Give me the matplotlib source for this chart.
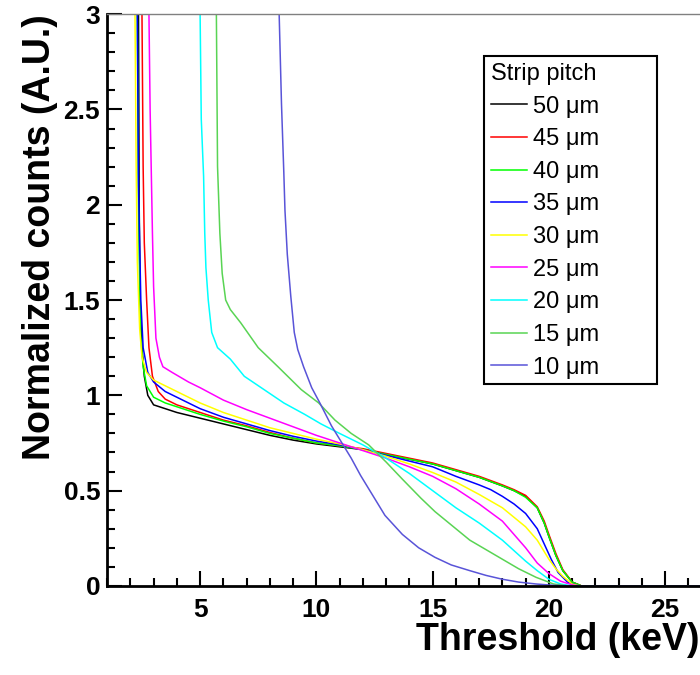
import matplotlib
matplotlib.use("Agg")
import matplotlib.pyplot as plt
from matplotlib.patches import Rectangle
from matplotlib.ticker import MultipleLocator, FormatStrFormatter

plt.rcParams['font.family'] = ['Liberation Sans', 'DejaVu Sans']

# threshold (keV) / normalized counts, one list pair per strip pitch
x50 = [2.3, 2.35, 2.38, 2.42, 2.5, 2.6, 2.75, 3.0, 3.5, 4, 5, 6, 7, 8, 9, 10, 11, 12, 13, 14,
       15, 16, 17, 18, 18.5, 19, 19.5, 19.8, 20.0, 20.3, 20.6, 21.0, 21.4, 27]
y50 = [3.5, 3.0, 2.0, 1.5, 1.25, 1.1, 1.0, 0.95, 0.93, 0.91, 0.88, 0.85, 0.82, 0.79, 0.765, 0.745,
       0.73, 0.715, 0.69, 0.665, 0.64, 0.605, 0.57, 0.525, 0.5, 0.47, 0.41, 0.33, 0.26, 0.16, 0.08,
       0.02, 0.0, 0.0]

x45 = [2.45, 2.5, 2.55, 2.6, 2.7, 2.8, 2.95, 3.2, 3.5, 4, 5, 6, 7, 8, 9, 10, 11, 12, 13, 14,
       15, 16, 17, 18, 18.5, 19, 19.5, 19.8, 20.0, 20.3, 20.6, 21.0, 21.4, 27]
y45 = [3.5, 3.0, 2.2, 1.8, 1.5, 1.25, 1.1, 1.02, 0.98, 0.95, 0.91, 0.87, 0.84, 0.805, 0.775, 0.75,
       0.735, 0.72, 0.695, 0.67, 0.645, 0.61, 0.575, 0.53, 0.505, 0.475, 0.415, 0.34, 0.27, 0.17,
       0.085, 0.02, 0.0, 0.0]

x40 = [2.25, 2.3, 2.35, 2.4, 2.45, 2.55, 2.7, 3.0, 3.5, 4, 5, 6, 7, 8, 9, 10, 11, 12, 13, 14,
       15, 16, 17, 18, 18.5, 19, 19.5, 19.8, 20.0, 20.3, 20.6, 21.0, 21.4, 27]
y40 = [3.5, 3.0, 2.0, 1.6, 1.3, 1.15, 1.05, 0.99, 0.96, 0.94, 0.9, 0.865, 0.835, 0.8, 0.775, 0.75,
       0.735, 0.715, 0.69, 0.665, 0.64, 0.605, 0.57, 0.525, 0.5, 0.465, 0.41, 0.33, 0.26, 0.16,
       0.08, 0.02, 0.0, 0.0]

x35 = [2.25, 2.3, 2.35, 2.45, 2.55, 2.75, 3.0, 3.5, 4, 5, 6, 7, 8, 9, 10, 11, 12, 13, 14, 15,
       16, 17, 17.5, 18, 18.5, 19, 19.5, 19.8, 20.1, 20.4, 20.8, 21.3, 27]
y35 = [3.5, 3.0, 2.1, 1.5, 1.25, 1.12, 1.07, 1.02, 0.99, 0.93, 0.885, 0.85, 0.815, 0.785, 0.76,
       0.74, 0.715, 0.685, 0.655, 0.625, 0.575, 0.53, 0.505, 0.47, 0.43, 0.38, 0.3, 0.22, 0.14,
       0.07, 0.02, 0.0, 0.0]

x30 = [2.15, 2.2, 2.25, 2.3, 2.4, 2.5, 2.7, 3.0, 3.5, 4, 5, 6, 7, 8, 9, 10, 11, 12, 13, 14, 15,
       16, 17, 18, 18.5, 19, 19.5, 20, 20.3, 20.6, 21, 21.3, 27]
y30 = [3.5, 3.0, 2.2, 1.7, 1.35, 1.2, 1.12, 1.08, 1.05, 1.02, 0.96, 0.91, 0.87, 0.83, 0.8, 0.77,
       0.745, 0.715, 0.68, 0.64, 0.595, 0.545, 0.48, 0.41, 0.36, 0.31, 0.24, 0.14, 0.09, 0.05,
       0.01, 0.0, 0.0]

x25 = [2.75, 2.8, 2.85, 2.95, 3.0, 3.1, 3.25, 3.4, 3.8, 4.5, 5, 6, 7, 8, 9, 10, 11, 12, 13, 14,
       15, 16, 17, 18, 19, 19.5, 20, 20.5, 21, 21.3, 27]
y25 = [3.5, 3.0, 2.5, 1.85, 1.57, 1.3, 1.2, 1.15, 1.12, 1.07, 1.04, 0.975, 0.925, 0.88, 0.835,
       0.79, 0.75, 0.71, 0.67, 0.625, 0.575, 0.51, 0.43, 0.34, 0.2, 0.12, 0.065, 0.025, 0.005,
       0.0, 0.0]

x20 = [4.95, 5.0, 5.05, 5.15, 5.2, 5.25, 5.35, 5.5, 5.75, 6.3, 6.9, 7.75, 8.6, 9.5, 10.2, 11,
       12, 13, 14, 15, 16, 17, 18, 19, 19.5, 20, 20.5, 21, 27]
y20 = [3.5, 3.0, 2.45, 2.15, 1.85, 1.67, 1.5, 1.33, 1.25, 1.19, 1.1, 1.03, 0.96, 0.9, 0.85, 0.8,
       0.74, 0.67, 0.59, 0.5, 0.41, 0.33, 0.24, 0.13, 0.08, 0.035, 0.01, 0.0, 0.0]

x15 = [5.65, 5.7, 5.75, 5.85, 5.95, 6.1, 6.3, 6.75, 7.5, 8.35, 9.35, 10.1, 10.8, 11.5, 12.25,
       13, 13.7, 14.5, 15.1, 16, 16.6, 17.3, 18, 18.7, 19.45, 20.2, 20.8, 27]
y15 = [3.5, 3.0, 2.2, 1.85, 1.64, 1.5, 1.45, 1.38, 1.25, 1.15, 1.03, 0.96, 0.87, 0.8, 0.74, 0.65,
       0.56, 0.46, 0.39, 0.3, 0.24, 0.19, 0.14, 0.09, 0.045, 0.01, 0.0, 0.0]

x10 = [8.35, 8.4, 8.5, 8.6, 8.65, 8.75, 8.9, 9.05, 9.2, 9.45, 9.8, 10.15, 10.65, 11.1, 11.5,
       11.9, 12.25, 12.95, 13.7, 14.4, 15.1, 15.8, 16.6, 17.3, 18, 18.7, 19.45, 20.2, 21, 27]
y10 = [3.5, 3.0, 2.53, 2.17, 1.97, 1.74, 1.52, 1.33, 1.24, 1.15, 1.04, 0.96, 0.84, 0.75, 0.67,
       0.58, 0.51, 0.37, 0.27, 0.2, 0.15, 0.11, 0.08, 0.055, 0.035, 0.02, 0.01, 0.003, 0.0, 0.0]

labels = ["50 \u03bcm", "45 \u03bcm", "40 \u03bcm", "35 \u03bcm", "30 \u03bcm",
          "25 \u03bcm", "20 \u03bcm", "15 \u03bcm", "10 \u03bcm"]
colors = ["#000000", "#ff0000", "#00ff00", "#0000ff", "#ffff00",
          "#ff00ff", "#00ffff", "#59d454", "#5954d8"]
series = [(x50, y50), (x45, y45), (x40, y40), (x35, y35), (x30, y30),
          (x25, y25), (x20, y20), (x15, y15), (x10, y10)]

fig = plt.figure(figsize=(7, 6.75), dpi=100)
ax = fig.add_axes([0.153, 0.132, 0.847, 0.847])

for (xs, ys), c, lab in zip(series, colors, labels):
    ax.plot(xs, ys, color=c, lw=1.1, label=lab)

ax.set_xlim(1, 26.5)
ax.set_ylim(0, 3)

ax.xaxis.set_major_locator(MultipleLocator(5))
ax.xaxis.set_minor_locator(MultipleLocator(1))
ax.yaxis.set_major_locator(MultipleLocator(0.5))
ax.yaxis.set_minor_locator(MultipleLocator(0.1))
ax.yaxis.set_major_formatter(FormatStrFormatter('%g'))

ax.tick_params(axis='x', which='major', direction='in', length=11, width=1.5,
               labelsize=19, pad=9)
ax.tick_params(axis='x', which='minor', direction='in', length=6, width=1.5)
ax.tick_params(axis='y', which='major', direction='in', length=11, width=1.5,
               labelsize=19, pad=5)
ax.tick_params(axis='y', which='minor', direction='in', length=6, width=1.5)
for lbl in ax.get_xticklabels() + ax.get_yticklabels():
    lbl.set_fontweight('bold')

ax.spines['left'].set_linewidth(2)
ax.spines['bottom'].set_linewidth(2)
ax.spines['top'].set_color('#808080')
ax.spines['top'].set_linewidth(1)
ax.spines['right'].set_visible(False)

ax.set_xlabel("Threshold (keV)", fontsize=27, fontweight='bold', loc='right', labelpad=0)
ax.set_ylabel("Normalized counts (A.U.)", fontsize=27, fontweight='bold', loc='top', labelpad=4)

# legend box is wider than its entries, as in the ROOT original
ax.add_patch(Rectangle((0.636, 0.353), 0.291, 0.574, transform=ax.transAxes,
                       facecolor='white', edgecolor='black', lw=1.5, zorder=4))
leg = ax.legend(title="Strip pitch", loc='upper left', bbox_to_anchor=(0.636, 0.927),
                borderaxespad=0, fontsize=17, title_fontsize=17, alignment='left',
                handlelength=1.5, handletextpad=0.25, labelspacing=0.45,
                frameon=False, borderpad=0.3)
leg.set_zorder(5)

fig.savefig("out.png", dpi=100)
